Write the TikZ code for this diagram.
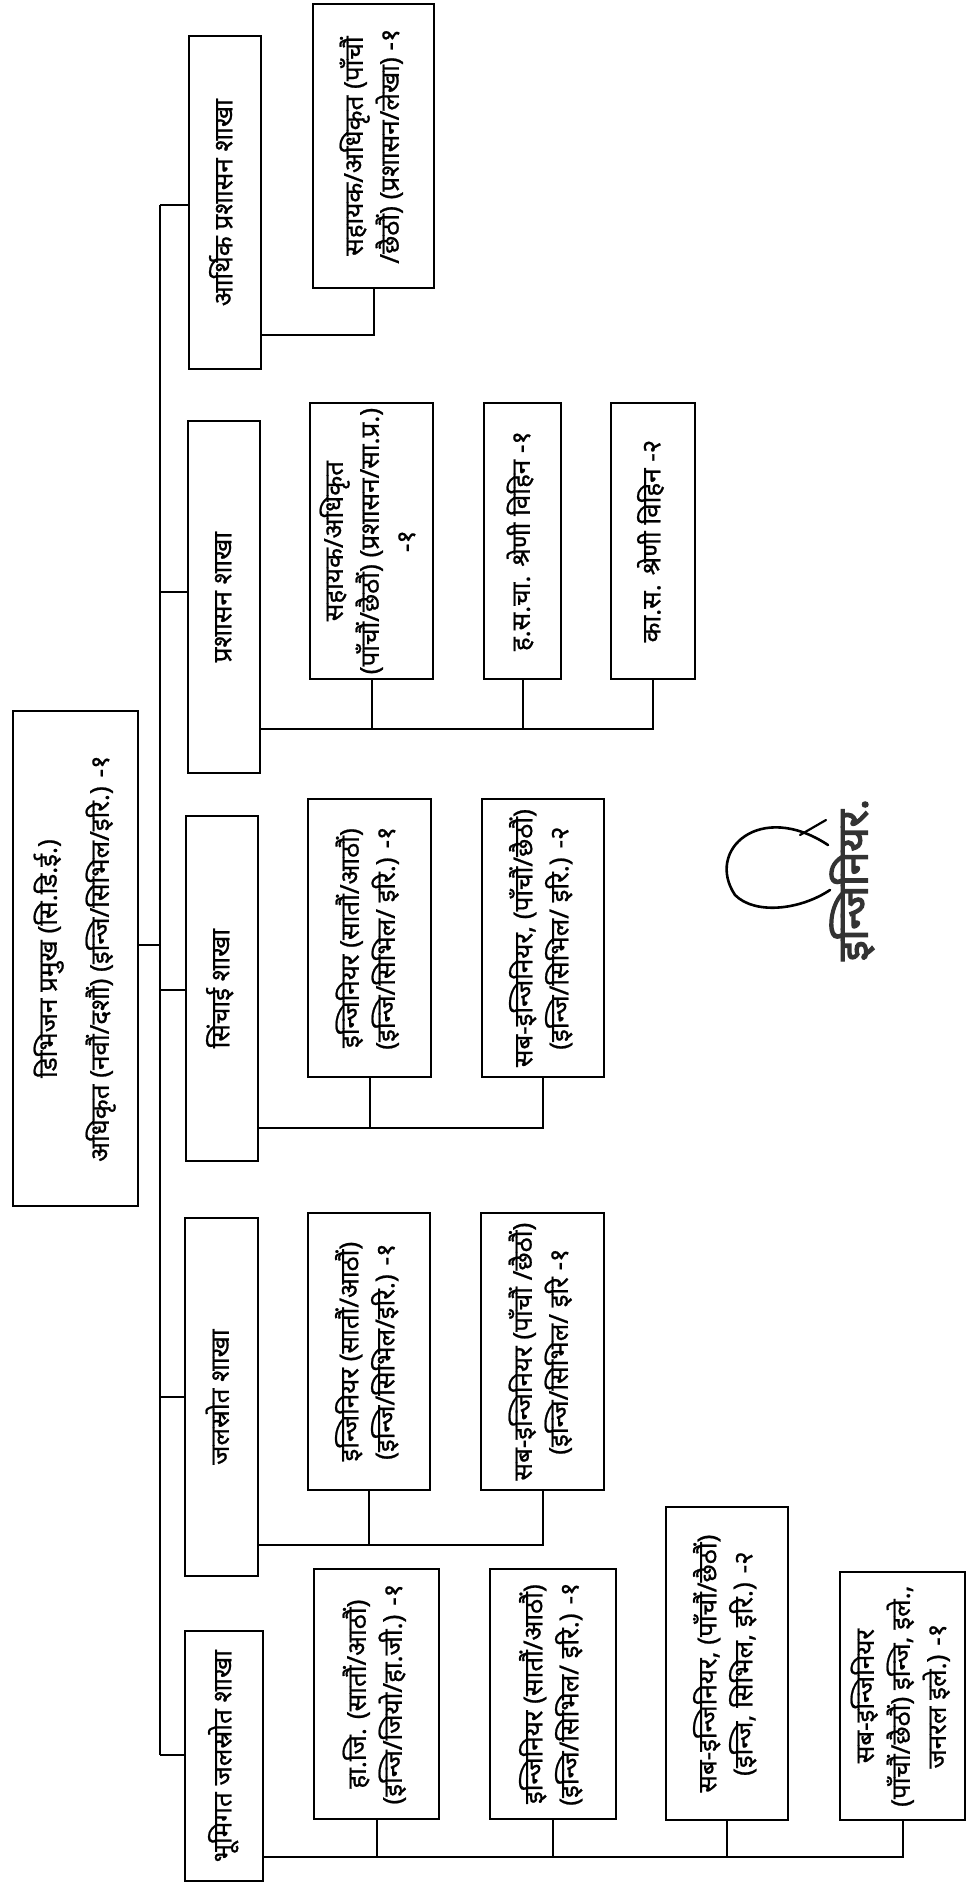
\documentclass[tikz,border=0pt]{standalone}
\usepackage{fontspec}
\usepackage{graphicx}
\setmainfont[Script=Devanagari,FakeBold=0.8]{Noto Sans}
\newfontfamily\sellofont[Script=Devanagari,FakeBold=3]{Noto Sans}
\newcommand{\rtxt}[1]{\rotatebox{90}{\begin{tabular}{@{}c@{}}#1\end{tabular}}}

\begin{document}
\begin{tikzpicture}[x=0.5pt,y=-0.5pt,
    caja/.style={draw,line width=1.1pt,anchor=north west,inner sep=0pt,
      font=\fontsize{13}{18}\selectfont},
    tam/.style 2 args={minimum width=#1*0.5pt,minimum height=#2*0.5pt},
    linea/.style={line width=1.1pt}]
  \path[fill=white] (0,0) rectangle (971,1883);
  % Jefe de division
  \node[caja,tam={125}{495}] (jefe) at (12,710)
    {\rtxt{डिभिजन प्रमुख (सि.डि.ई.)\\[8pt] अधिकृत (नवौं/दशौं) (इन्जि/सिभिल/इरि.) -१}};
  % Shakhas
  \node[caja,tam={72}{333}] (ab) at (188,35) {\rtxt{आर्थिक प्रशासन शाखा}};
  \node[caja,tam={72}{352}] (pb) at (187,420) {\rtxt{प्रशासन शाखा}};
  \node[caja,tam={72}{345}] (sb) at (185,815) {\rtxt{सिंचाई शाखा}};
  \node[caja,tam={73}{358}] (jb) at (184,1217) {\rtxt{जलस्रोत शाखा}};
  \node[caja,tam={78}{250}] (bb) at (184,1630) {\rtxt{भूमिगत जलस्रोत शाखा}};
  % Puestos: aarthik prashasan
  \node[caja,tam={121}{284}] (ac) at (312,3)
    {\rtxt{सहायक/अधिकृत (पाँचौं\\ /छैठौं) (प्रशासन/लेखा) -१}};
  % Puestos: prashasan
  \node[caja,tam={123}{276}] (p1) at (309,402)
    {\rtxt{सहायक/अधिकृत\\ (पाँचौं/छैठौं) (प्रशासन/सा.प्र.)\\ -१}};
  \node[caja,tam={77}{276}] (p2) at (483,402) {\rtxt{ह.स.चा. श्रेणी विहिन -१}};
  \node[caja,tam={84}{276}] (p3) at (610,402) {\rtxt{का.स. श्रेणी विहिन -२}};
  % Puestos: sinchai
  \node[caja,tam={123}{278}] (s1) at (307,798)
    {\rtxt{इन्जिनियर (सातौं/आठौं)\\ (इन्जि/सिभिल/ इरि.) -१}};
  \node[caja,tam={122}{278}] (s2) at (481,798)
    {\rtxt{सब-इन्जिनियर, (पाँचौं/छैठौं)\\ (इन्जि/सिभिल/ इरि.) -२}};
  % Puestos: jalasrot
  \node[caja,tam={122}{277}] (j1) at (307,1212)
    {\rtxt{इन्जिनियर (सातौं/आठौं)\\ (इन्जि/सिभिल/इरि.) -१}};
  \node[caja,tam={123}{277}] (j2) at (480,1212)
    {\rtxt{सब-इन्जिनियर (पाँचौं /छैठौं)\\ (इन्जि/सिभिल/ इरि -१}};
  % Puestos: bhumigat jalasrot
  \node[caja,tam={125}{250}] (b1) at (313,1568)
    {\rtxt{हा.जि. (सातौं/आठौं)\\ (इन्जि/जियो/हा.जी.) -१}};
  \node[caja,tam={126}{250}] (b2) at (489,1568)
    {\rtxt{इन्जिनियर (सातौं/आठौं)\\ (इन्जि/सिभिल/ इरि.) -१}};
  \node[caja,tam={122}{313}] (b3) at (665,1506)
    {\rtxt{सब-इन्जिनियर, (पाँचौं/छैठौं)\\ (इन्जि, सिभिल, इरि.) -२}};
  \node[caja,tam={125}{248}] (b4) at (839,1571)
    {\rtxt{सब-इन्जिनियर\\ (पाँचौं/छैठौं) इन्जि, इले.,\\ जनरल इले.) -१}};
  % Tronco
  \coordinate (tronco) at (160,205);
  \coordinate (troncofin) at (160,1755);
  \draw[linea] (tronco) -- (troncofin);
  \draw[linea] (jefe.east |- 0,945) -- (tronco |- 0,945);
  \foreach \n/\yy in {ab/205,pb/592,sb/990,jb/1397,bb/1755}
    \draw[linea] (tronco |- 0,\yy) -- (\n.west |- 0,\yy);
  % Lineas a los puestos
  \draw[linea] (ab.east |- 0,335) -| (ac.south);
  \draw[linea] (pb.east |- 0,729) -| (p3.south);
  \foreach \n in {p1,p2}
    \draw[linea] (\n.south) -- (\n.south |- 0,729);
  \draw[linea] (sb.east |- 0,1128) -| (s2.south);
  \draw[linea] (s1.south) -- (s1.south |- 0,1128);
  \draw[linea] (jb.east |- 0,1545) -| (j2.south);
  \draw[linea] (j1.south) -- (j1.south |- 0,1545);
  \draw[linea] (bb.east |- 0,1857) -| (b4.south);
  \foreach \n in {b1,b2,b3}
    \draw[linea] (\n.south) -- (\n.south |- 0,1857);
  % Firma y sello
  \draw[line width=1.3pt,line cap=round] (828,845) .. controls (760,800) and (705,850) .. (735,895)
    .. controls (755,915) and (800,910) .. (830,890);
  \draw[line width=1.1pt,line cap=round] (826,820) -- (800,835);
  \node[rotate=90,font=\fontsize{21}{21}\sellofont,black!80] (sello) at (852,880) {इन्जिनियर.};
\end{tikzpicture}
\end{document}
